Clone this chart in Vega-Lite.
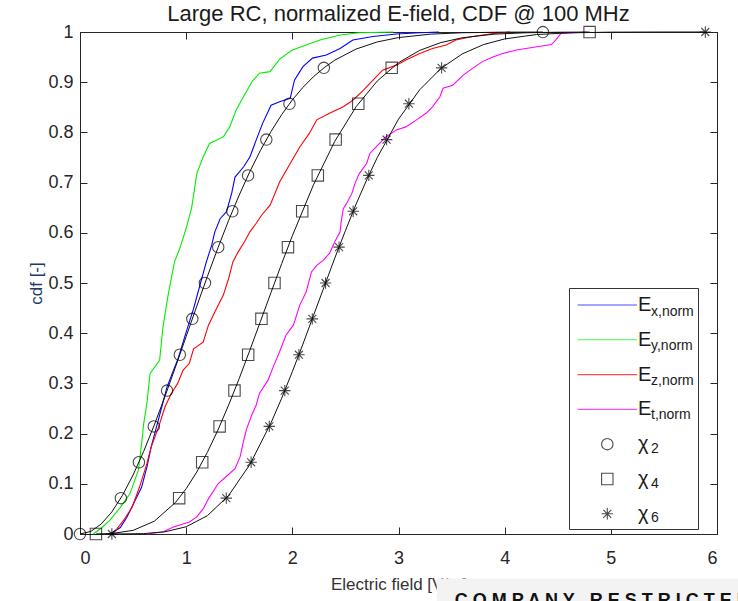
{
  "$schema": "https://vega.github.io/schema/vega-lite/v6.json",
  "width": 637,
  "height": 502,
  "autosize": {"type": "none"},
  "padding": {"left": 80, "top": 32, "right": 21, "bottom": 67},
  "background": "white",
  "title": {"text": "Large RC, normalized E-field, CDF @ 100 MHz", "fontSize": 22, "font": "Liberation Sans", "fontWeight": "normal", "color": "#1a1a1a", "anchor": "middle", "offset": -3},
  "config": {
    "font": "Liberation Sans",
    "view": {"stroke": "#262626", "strokeWidth": 1},
    "axis": {"grid": false, "domainColor": "#262626", "tickColor": "#262626", "labelColor": "#262626", "labelFont": "Liberation Sans", "labelFontSize": 18, "tickSize": -7, "labelPadding": 22, "titleFont": "Liberation Sans", "titleFontWeight": "normal", "titleFontSize": 17, "titleColor": "#333333"}
  },
  "datasets": {
    "emp": [
      {"series": "Ex", "x": 0.28, "cdf": 0}, {"series": "Ex", "x": 0.38, "cdf": 0.013}, {"series": "Ex", "x": 0.44, "cdf": 0.033}, {"series": "Ex", "x": 0.52, "cdf": 0.067}, {"series": "Ex", "x": 0.58, "cdf": 0.093}, {"series": "Ex", "x": 0.63, "cdf": 0.133}, {"series": "Ex", "x": 0.67, "cdf": 0.173}, {"series": "Ex", "x": 0.72, "cdf": 0.213}, {"series": "Ex", "x": 0.77, "cdf": 0.253}, {"series": "Ex", "x": 0.82, "cdf": 0.293}, {"series": "Ex", "x": 0.88, "cdf": 0.326}, {"series": "Ex", "x": 0.92, "cdf": 0.347}, {"series": "Ex", "x": 1.0, "cdf": 0.402}, {"series": "Ex", "x": 1.07, "cdf": 0.449}, {"series": "Ex", "x": 1.13, "cdf": 0.496}, {"series": "Ex", "x": 1.19, "cdf": 0.542}, {"series": "Ex", "x": 1.24, "cdf": 0.575}, {"series": "Ex", "x": 1.27, "cdf": 0.602}, {"series": "Ex", "x": 1.32, "cdf": 0.628}, {"series": "Ex", "x": 1.38, "cdf": 0.642}, {"series": "Ex", "x": 1.43, "cdf": 0.68}, {"series": "Ex", "x": 1.46, "cdf": 0.711}, {"series": "Ex", "x": 1.54, "cdf": 0.731}, {"series": "Ex", "x": 1.6, "cdf": 0.751}, {"series": "Ex", "x": 1.66, "cdf": 0.785}, {"series": "Ex", "x": 1.72, "cdf": 0.818}, {"series": "Ex", "x": 1.8, "cdf": 0.854}, {"series": "Ex", "x": 1.88, "cdf": 0.861}, {"series": "Ex", "x": 1.98, "cdf": 0.868}, {"series": "Ex", "x": 2.02, "cdf": 0.904}, {"series": "Ex", "x": 2.1, "cdf": 0.931}, {"series": "Ex", "x": 2.19, "cdf": 0.948}, {"series": "Ex", "x": 2.32, "cdf": 0.954}, {"series": "Ex", "x": 2.45, "cdf": 0.967}, {"series": "Ex", "x": 2.57, "cdf": 0.984}, {"series": "Ex", "x": 2.76, "cdf": 0.991}, {"series": "Ex", "x": 2.98, "cdf": 0.996}, {"series": "Ex", "x": 3.2, "cdf": 0.9986}, {"series": "Ex", "x": 3.38, "cdf": 1.0},
      {"series": "Ey", "x": 0.125, "cdf": 0}, {"series": "Ey", "x": 0.19, "cdf": 0.01}, {"series": "Ey", "x": 0.28, "cdf": 0.027}, {"series": "Ey", "x": 0.38, "cdf": 0.053}, {"series": "Ey", "x": 0.47, "cdf": 0.08}, {"series": "Ey", "x": 0.55, "cdf": 0.127}, {"series": "Ey", "x": 0.58, "cdf": 0.18}, {"series": "Ey", "x": 0.6, "cdf": 0.22}, {"series": "Ey", "x": 0.63, "cdf": 0.26}, {"series": "Ey", "x": 0.66, "cdf": 0.32}, {"series": "Ey", "x": 0.75, "cdf": 0.346}, {"series": "Ey", "x": 0.78, "cdf": 0.41}, {"series": "Ey", "x": 0.83, "cdf": 0.476}, {"series": "Ey", "x": 0.89, "cdf": 0.542}, {"series": "Ey", "x": 0.94, "cdf": 0.569}, {"series": "Ey", "x": 1.0, "cdf": 0.609}, {"series": "Ey", "x": 1.05, "cdf": 0.648}, {"series": "Ey", "x": 1.07, "cdf": 0.675}, {"series": "Ey", "x": 1.1, "cdf": 0.718}, {"series": "Ey", "x": 1.16, "cdf": 0.751}, {"series": "Ey", "x": 1.22, "cdf": 0.778}, {"series": "Ey", "x": 1.35, "cdf": 0.791}, {"series": "Ey", "x": 1.41, "cdf": 0.811}, {"series": "Ey", "x": 1.47, "cdf": 0.844}, {"series": "Ey", "x": 1.54, "cdf": 0.871}, {"series": "Ey", "x": 1.62, "cdf": 0.901}, {"series": "Ey", "x": 1.69, "cdf": 0.918}, {"series": "Ey", "x": 1.79, "cdf": 0.921}, {"series": "Ey", "x": 1.88, "cdf": 0.946}, {"series": "Ey", "x": 2.0, "cdf": 0.964}, {"series": "Ey", "x": 2.13, "cdf": 0.974}, {"series": "Ey", "x": 2.26, "cdf": 0.984}, {"series": "Ey", "x": 2.45, "cdf": 0.994}, {"series": "Ey", "x": 2.63, "cdf": 0.9986}, {"series": "Ey", "x": 2.95, "cdf": 1.0},
      {"series": "Ez", "x": 0.31, "cdf": 0}, {"series": "Ez", "x": 0.41, "cdf": 0.027}, {"series": "Ez", "x": 0.49, "cdf": 0.053}, {"series": "Ez", "x": 0.56, "cdf": 0.093}, {"series": "Ez", "x": 0.63, "cdf": 0.14}, {"series": "Ez", "x": 0.67, "cdf": 0.173}, {"series": "Ez", "x": 0.74, "cdf": 0.213}, {"series": "Ez", "x": 0.8, "cdf": 0.253}, {"series": "Ez", "x": 0.86, "cdf": 0.28}, {"series": "Ez", "x": 0.92, "cdf": 0.3}, {"series": "Ez", "x": 0.97, "cdf": 0.326}, {"series": "Ez", "x": 1.03, "cdf": 0.34}, {"series": "Ez", "x": 1.07, "cdf": 0.369}, {"series": "Ez", "x": 1.16, "cdf": 0.382}, {"series": "Ez", "x": 1.21, "cdf": 0.416}, {"series": "Ez", "x": 1.27, "cdf": 0.442}, {"series": "Ez", "x": 1.35, "cdf": 0.476}, {"series": "Ez", "x": 1.4, "cdf": 0.509}, {"series": "Ez", "x": 1.44, "cdf": 0.542}, {"series": "Ez", "x": 1.49, "cdf": 0.562}, {"series": "Ez", "x": 1.55, "cdf": 0.582}, {"series": "Ez", "x": 1.6, "cdf": 0.602}, {"series": "Ez", "x": 1.66, "cdf": 0.619}, {"series": "Ez", "x": 1.71, "cdf": 0.635}, {"series": "Ez", "x": 1.79, "cdf": 0.655}, {"series": "Ez", "x": 1.83, "cdf": 0.675}, {"series": "Ez", "x": 1.88, "cdf": 0.701}, {"series": "Ez", "x": 1.98, "cdf": 0.738}, {"series": "Ez", "x": 2.07, "cdf": 0.771}, {"series": "Ez", "x": 2.16, "cdf": 0.798}, {"series": "Ez", "x": 2.23, "cdf": 0.825}, {"series": "Ez", "x": 2.35, "cdf": 0.838}, {"series": "Ez", "x": 2.48, "cdf": 0.851}, {"series": "Ez", "x": 2.57, "cdf": 0.864}, {"series": "Ez", "x": 2.67, "cdf": 0.884}, {"series": "Ez", "x": 2.76, "cdf": 0.904}, {"series": "Ez", "x": 2.85, "cdf": 0.924}, {"series": "Ez", "x": 2.98, "cdf": 0.934}, {"series": "Ez", "x": 3.07, "cdf": 0.944}, {"series": "Ez", "x": 3.2, "cdf": 0.957}, {"series": "Ez", "x": 3.32, "cdf": 0.967}, {"series": "Ez", "x": 3.45, "cdf": 0.974}, {"series": "Ez", "x": 3.54, "cdf": 0.984}, {"series": "Ez", "x": 3.7, "cdf": 0.991}, {"series": "Ez", "x": 3.89, "cdf": 0.997}, {"series": "Ez", "x": 4.05, "cdf": 1.0},
      {"series": "Et", "x": 0.63, "cdf": 0}, {"series": "Et", "x": 0.78, "cdf": 0.004}, {"series": "Et", "x": 0.88, "cdf": 0.014}, {"series": "Et", "x": 1.03, "cdf": 0.024}, {"series": "Et", "x": 1.1, "cdf": 0.034}, {"series": "Et", "x": 1.16, "cdf": 0.05}, {"series": "Et", "x": 1.21, "cdf": 0.07}, {"series": "Et", "x": 1.3, "cdf": 0.1}, {"series": "Et", "x": 1.38, "cdf": 0.115}, {"series": "Et", "x": 1.46, "cdf": 0.13}, {"series": "Et", "x": 1.51, "cdf": 0.155}, {"series": "Et", "x": 1.54, "cdf": 0.185}, {"series": "Et", "x": 1.57, "cdf": 0.21}, {"series": "Et", "x": 1.62, "cdf": 0.238}, {"series": "Et", "x": 1.66, "cdf": 0.257}, {"series": "Et", "x": 1.69, "cdf": 0.28}, {"series": "Et", "x": 1.77, "cdf": 0.306}, {"series": "Et", "x": 1.82, "cdf": 0.333}, {"series": "Et", "x": 1.88, "cdf": 0.363}, {"series": "Et", "x": 1.94, "cdf": 0.396}, {"series": "Et", "x": 2.01, "cdf": 0.416}, {"series": "Et", "x": 2.07, "cdf": 0.456}, {"series": "Et", "x": 2.13, "cdf": 0.482}, {"series": "Et", "x": 2.18, "cdf": 0.522}, {"series": "Et", "x": 2.23, "cdf": 0.535}, {"series": "Et", "x": 2.29, "cdf": 0.545}, {"series": "Et", "x": 2.35, "cdf": 0.559}, {"series": "Et", "x": 2.4, "cdf": 0.582}, {"series": "Et", "x": 2.45, "cdf": 0.602}, {"series": "Et", "x": 2.46, "cdf": 0.622}, {"series": "Et", "x": 2.48, "cdf": 0.648}, {"series": "Et", "x": 2.52, "cdf": 0.662}, {"series": "Et", "x": 2.56, "cdf": 0.678}, {"series": "Et", "x": 2.59, "cdf": 0.698}, {"series": "Et", "x": 2.63, "cdf": 0.718}, {"series": "Et", "x": 2.7, "cdf": 0.738}, {"series": "Et", "x": 2.73, "cdf": 0.758}, {"series": "Et", "x": 2.79, "cdf": 0.771}, {"series": "Et", "x": 2.88, "cdf": 0.791}, {"series": "Et", "x": 2.98, "cdf": 0.805}, {"series": "Et", "x": 3.07, "cdf": 0.811}, {"series": "Et", "x": 3.17, "cdf": 0.825}, {"series": "Et", "x": 3.26, "cdf": 0.838}, {"series": "Et", "x": 3.32, "cdf": 0.851}, {"series": "Et", "x": 3.39, "cdf": 0.871}, {"series": "Et", "x": 3.42, "cdf": 0.888}, {"series": "Et", "x": 3.51, "cdf": 0.894}, {"series": "Et", "x": 3.61, "cdf": 0.914}, {"series": "Et", "x": 3.7, "cdf": 0.928}, {"series": "Et", "x": 3.79, "cdf": 0.941}, {"series": "Et", "x": 3.89, "cdf": 0.95}, {"series": "Et", "x": 3.98, "cdf": 0.957}, {"series": "Et", "x": 4.11, "cdf": 0.964}, {"series": "Et", "x": 4.26, "cdf": 0.969}, {"series": "Et", "x": 4.44, "cdf": 0.975}, {"series": "Et", "x": 4.48, "cdf": 0.984}, {"series": "Et", "x": 4.53, "cdf": 0.997}, {"series": "Et", "x": 4.61, "cdf": 0.998}, {"series": "Et", "x": 4.77, "cdf": 1.0}
    ],
    "theory": [
      {"series": "X2", "x": 0, "cdf": 0}, {"series": "X2", "x": 0.1, "cdf": 0.005}, {"series": "X2", "x": 0.2, "cdf": 0.0198}, {"series": "X2", "x": 0.3, "cdf": 0.044}, {"series": "X2", "x": 0.4, "cdf": 0.0769}, {"series": "X2", "x": 0.5, "cdf": 0.1175}, {"series": "X2", "x": 0.6, "cdf": 0.1647}, {"series": "X2", "x": 0.7, "cdf": 0.2173}, {"series": "X2", "x": 0.8, "cdf": 0.2739}, {"series": "X2", "x": 0.9, "cdf": 0.333}, {"series": "X2", "x": 1.0, "cdf": 0.3935}, {"series": "X2", "x": 1.1, "cdf": 0.4539}, {"series": "X2", "x": 1.2, "cdf": 0.5132}, {"series": "X2", "x": 1.3, "cdf": 0.5704}, {"series": "X2", "x": 1.4, "cdf": 0.6247}, {"series": "X2", "x": 1.5, "cdf": 0.6753}, {"series": "X2", "x": 1.6, "cdf": 0.722}, {"series": "X2", "x": 1.7, "cdf": 0.7643}, {"series": "X2", "x": 1.8, "cdf": 0.8021}, {"series": "X2", "x": 1.9, "cdf": 0.8355}, {"series": "X2", "x": 2.0, "cdf": 0.8647}, {"series": "X2", "x": 2.1, "cdf": 0.8897}, {"series": "X2", "x": 2.2, "cdf": 0.9111}, {"series": "X2", "x": 2.3, "cdf": 0.929}, {"series": "X2", "x": 2.4, "cdf": 0.9439}, {"series": "X2", "x": 2.6, "cdf": 0.966}, {"series": "X2", "x": 2.8, "cdf": 0.9802}, {"series": "X2", "x": 3.0, "cdf": 0.9889}, {"series": "X2", "x": 3.3, "cdf": 0.9957}, {"series": "X2", "x": 3.6, "cdf": 0.9985}, {"series": "X2", "x": 4.0, "cdf": 0.9997}, {"series": "X2", "x": 4.36, "cdf": 0.9999},
      {"series": "X4", "x": 0.15, "cdf": 0.0001}, {"series": "X4", "x": 0.3, "cdf": 0.001}, {"series": "X4", "x": 0.5, "cdf": 0.0072}, {"series": "X4", "x": 0.7, "cdf": 0.0255}, {"series": "X4", "x": 0.9, "cdf": 0.0629}, {"series": "X4", "x": 1.0, "cdf": 0.0902}, {"series": "X4", "x": 1.1, "cdf": 0.1235}, {"series": "X4", "x": 1.2, "cdf": 0.1628}, {"series": "X4", "x": 1.3, "cdf": 0.2074}, {"series": "X4", "x": 1.4, "cdf": 0.2569}, {"series": "X4", "x": 1.5, "cdf": 0.31}, {"series": "X4", "x": 1.6, "cdf": 0.3662}, {"series": "X4", "x": 1.7, "cdf": 0.4237}, {"series": "X4", "x": 1.8, "cdf": 0.4815}, {"series": "X4", "x": 1.9, "cdf": 0.5386}, {"series": "X4", "x": 2.0, "cdf": 0.594}, {"series": "X4", "x": 2.2, "cdf": 0.6959}, {"series": "X4", "x": 2.4, "cdf": 0.7823}, {"series": "X4", "x": 2.6, "cdf": 0.851}, {"series": "X4", "x": 2.8, "cdf": 0.9024}, {"series": "X4", "x": 3.0, "cdf": 0.9389}, {"series": "X4", "x": 3.2, "cdf": 0.9634}, {"series": "X4", "x": 3.4, "cdf": 0.979}, {"series": "X4", "x": 3.6, "cdf": 0.9885}, {"series": "X4", "x": 3.9, "cdf": 0.9957}, {"series": "X4", "x": 4.2, "cdf": 0.9985}, {"series": "X4", "x": 4.5, "cdf": 0.99955}, {"series": "X4", "x": 4.8, "cdf": 0.9999},
      {"series": "X6", "x": 0.3, "cdf": 0}, {"series": "X6", "x": 0.6, "cdf": 0.0008}, {"series": "X6", "x": 0.8, "cdf": 0.0044}, {"series": "X6", "x": 1.0, "cdf": 0.0144}, {"series": "X6", "x": 1.2, "cdf": 0.0365}, {"series": "X6", "x": 1.4, "cdf": 0.0767}, {"series": "X6", "x": 1.6, "cdf": 0.1384}, {"series": "X6", "x": 1.8, "cdf": 0.2218}, {"series": "X6", "x": 1.9, "cdf": 0.2706}, {"series": "X6", "x": 2.0, "cdf": 0.3233}, {"series": "X6", "x": 2.1, "cdf": 0.3783}, {"series": "X6", "x": 2.2, "cdf": 0.4357}, {"series": "X6", "x": 2.3, "cdf": 0.4928}, {"series": "X6", "x": 2.4, "cdf": 0.5497}, {"series": "X6", "x": 2.5, "cdf": 0.6042}, {"series": "X6", "x": 2.6, "cdf": 0.6569}, {"series": "X6", "x": 2.7, "cdf": 0.7052}, {"series": "X6", "x": 2.8, "cdf": 0.75}, {"series": "X6", "x": 3.0, "cdf": 0.8264}, {"series": "X6", "x": 3.2, "cdf": 0.885}, {"series": "X6", "x": 3.4, "cdf": 0.9274}, {"series": "X6", "x": 3.6, "cdf": 0.9563}, {"series": "X6", "x": 3.8, "cdf": 0.9749}, {"series": "X6", "x": 4.0, "cdf": 0.9862}, {"series": "X6", "x": 4.3, "cdf": 0.9949}, {"series": "X6", "x": 4.6, "cdf": 0.9983}, {"series": "X6", "x": 5.0, "cdf": 0.9997}, {"series": "X6", "x": 5.4, "cdf": 0.99994}, {"series": "X6", "x": 5.89, "cdf": 1.0}
    ],
    "markers": [
      {"series": "X2", "x": 0, "cdf": 0}, {"series": "X2", "x": 0.385, "cdf": 0.0714}, {"series": "X2", "x": 0.555, "cdf": 0.1429}, {"series": "X2", "x": 0.695, "cdf": 0.2143}, {"series": "X2", "x": 0.82, "cdf": 0.2857}, {"series": "X2", "x": 0.94, "cdf": 0.3571}, {"series": "X2", "x": 1.058, "cdf": 0.4286}, {"series": "X2", "x": 1.177, "cdf": 0.5}, {"series": "X2", "x": 1.302, "cdf": 0.5714}, {"series": "X2", "x": 1.435, "cdf": 0.6429}, {"series": "X2", "x": 1.583, "cdf": 0.7143}, {"series": "X2", "x": 1.755, "cdf": 0.7857}, {"series": "X2", "x": 1.973, "cdf": 0.8571}, {"series": "X2", "x": 2.297, "cdf": 0.9286}, {"series": "X2", "x": 4.36, "cdf": 0.9999},
      {"series": "X4", "x": 0.15, "cdf": 0}, {"series": "X4", "x": 0.934, "cdf": 0.0714}, {"series": "X4", "x": 1.151, "cdf": 0.1429}, {"series": "X4", "x": 1.315, "cdf": 0.2143}, {"series": "X4", "x": 1.455, "cdf": 0.2857}, {"series": "X4", "x": 1.584, "cdf": 0.3571}, {"series": "X4", "x": 1.709, "cdf": 0.4286}, {"series": "X4", "x": 1.832, "cdf": 0.5}, {"series": "X4", "x": 1.959, "cdf": 0.5714}, {"series": "X4", "x": 2.093, "cdf": 0.6429}, {"series": "X4", "x": 2.24, "cdf": 0.7143}, {"series": "X4", "x": 2.408, "cdf": 0.7857}, {"series": "X4", "x": 2.621, "cdf": 0.8571}, {"series": "X4", "x": 2.936, "cdf": 0.9286}, {"series": "X4", "x": 4.8, "cdf": 0.9999},
      {"series": "X6", "x": 0.3, "cdf": 0}, {"series": "X6", "x": 1.378, "cdf": 0.0714}, {"series": "X6", "x": 1.612, "cdf": 0.1429}, {"series": "X6", "x": 1.783, "cdf": 0.2143}, {"series": "X6", "x": 1.929, "cdf": 0.2857}, {"series": "X6", "x": 2.062, "cdf": 0.3571}, {"series": "X6", "x": 2.188, "cdf": 0.4286}, {"series": "X6", "x": 2.313, "cdf": 0.5}, {"series": "X6", "x": 2.44, "cdf": 0.5714}, {"series": "X6", "x": 2.573, "cdf": 0.6429}, {"series": "X6", "x": 2.72, "cdf": 0.7143}, {"series": "X6", "x": 2.888, "cdf": 0.7857}, {"series": "X6", "x": 3.098, "cdf": 0.8571}, {"series": "X6", "x": 3.406, "cdf": 0.9286}, {"series": "X6", "x": 5.89, "cdf": 1.0}
    ]
  },
  "layer": [
    {
      "data": {"name": "emp"},
      "mark": {"type": "line", "strokeWidth": 1.1},
      "encoding": {
        "x": {"field": "x", "type": "quantitative", "scale": {"domain": [0, 6], "nice": false, "zero": false},
              "axis": {"orient": "bottom", "values": [0, 1, 2, 3, 4, 5, 6], "title": "Electric field [V/m]", "titlePadding": 9}},
        "y": {"field": "cdf", "type": "quantitative", "scale": {"domain": [0, 1], "nice": false},
              "axis": {"orient": "left", "values": [0, 0.1, 0.2, 0.3, 0.4, 0.5, 0.6, 0.7, 0.8, 0.9, 1], "format": "~g", "title": "cdf [-]", "titleColor": "#1f3a68", "titlePadding": 2, "labelPadding": 14}},
        "color": {"field": "series", "type": "nominal",
                  "scale": {"domain": ["Ex", "Ey", "Ez", "Et"], "range": ["#0000ff", "#00ee00", "#ff0000", "#ff00ff"]},
                  "legend": null},
        "opacity": {"field": "series", "type": "nominal",
                    "scale": {"domain": ["Ex", "Ey", "Ez", "Et", "X2", "X4", "X6", "zz"], "range": [1, 1, 1, 1, 1, 1, 1, 1]},
                    "legend": {"orient": "none", "legendX": 489, "legendY": 256, "padding": 4, "title": null, "symbolSize": 676, "symbolType": "M0,0L0,0", "symbolStrokeWidth": 0, "labelOffset": 52, "labelFontSize": 14, "labelBaseline": "top", "labelFont": "Liberation Sans", "labelColor": "#1a1a1a", "rowPadding": 7.3, "strokeColor": "#333333", "fillColor": "white", "values": ["Ex", "Ey", "Ez", "Et", "X2", "X4", "X6"], "labelExpr": "slice(datum.label,0,1)=='E' ? slice(datum.label,1) + ',norm' : slice(datum.label,1)"}}
      }
    },
    {
      "data": {"name": "theory"},
      "mark": {"type": "line", "color": "#111111", "strokeWidth": 1},
      "encoding": {
        "x": {"field": "x", "type": "quantitative", "axis": {"orient": "top", "labels": false, "title": null, "values": [0, 1, 2, 3, 4, 5, 6]}},
        "y": {"field": "cdf", "type": "quantitative", "axis": {"orient": "right", "labels": false, "title": null, "values": [0, 0.1, 0.2, 0.3, 0.4, 0.5, 0.6, 0.7, 0.8, 0.9, 1]}},
        "detail": {"field": "series", "type": "nominal"}
      }
    },
    {
      "data": {"name": "markers"},
      "mark": {"type": "point", "filled": false, "strokeWidth": 1.1, "size": 130, "clip": false},
      "encoding": {
        "x": {"field": "x", "type": "quantitative", "axis": null},
        "y": {"field": "cdf", "type": "quantitative", "axis": null},
        "stroke": {"field": "series", "type": "nominal",
                   "scale": {"domain": ["_", "Ex", "Ey", "Ez", "Et", "X2", "X4", "X6"], "range": ["#000000", "#0000ff", "#00ee00", "#ff0000", "#ff00ff", "#000000", "#000000", "#000000"]},
                   "legend": {"orient": "none", "legendX": 489, "legendY": 253, "padding": 10, "title": null, "values": ["Ex", "Ey", "Ez", "Et", "X2", "X4", "X6"], "symbolSize": 130, "symbolStrokeWidth": 1.1, "symbolOffset": 18.3, "labelOffset": 20.6, "labelFontSize": 20, "labelFont": "Liberation Sans", "labelColor": "#1a1a1a", "rowPadding": 14.8, "strokeColor": "transparent", "fillColor": "transparent", "labelExpr": "slice(datum.label,0,1)=='E' ? 'E' : 'χ'"}},
        "shape": {"field": "series", "type": "nominal",
                  "scale": {"domain": ["_", "Ex", "Ey", "Ez", "Et", "X2", "X4", "X6"], "range": ["circle", "M-5.2,0H5.2", "M-5.2,0H5.2", "M-5.2,0H5.2", "M-5.2,0H5.2", "circle", "square", "M0,-1L0,1M-1,0L1,0M-0.7,-0.7L0.7,0.7M-0.7,0.7L0.7,-0.7"]}}
      }
    },
    {
      "data": {"values": [{"note": "watermark"}]},
      "mark": {"type": "rect", "color": "#f3f3f3", "clip": false},
      "encoding": {
        "x": {"datum": 3.36, "type": "quantitative", "axis": null},
        "x2": {"datum": 6.6},
        "y": {"datum": -0.0887, "type": "quantitative", "axis": null},
        "y2": {"datum": -0.2}
      }
    },
    {
      "data": {"values": [{"label": "C O M P A N Y\u00a0\u00a0\u00a0R E S T R I C T E D"}]},
      "mark": {"type": "text", "align": "left", "baseline": "top", "font": "Liberation Sans", "fontWeight": "bold", "fontSize": 18, "color": "#111111", "clip": false},
      "encoding": {
        "x": {"datum": 3.53, "type": "quantitative", "axis": null},
        "y": {"datum": -0.1147, "type": "quantitative", "axis": null},
        "text": {"field": "label", "type": "nominal"}
      }
    }
  ],
  "resolve": {"axis": {"x": "independent", "y": "independent"}, "scale": {"color": "independent"}}
}
